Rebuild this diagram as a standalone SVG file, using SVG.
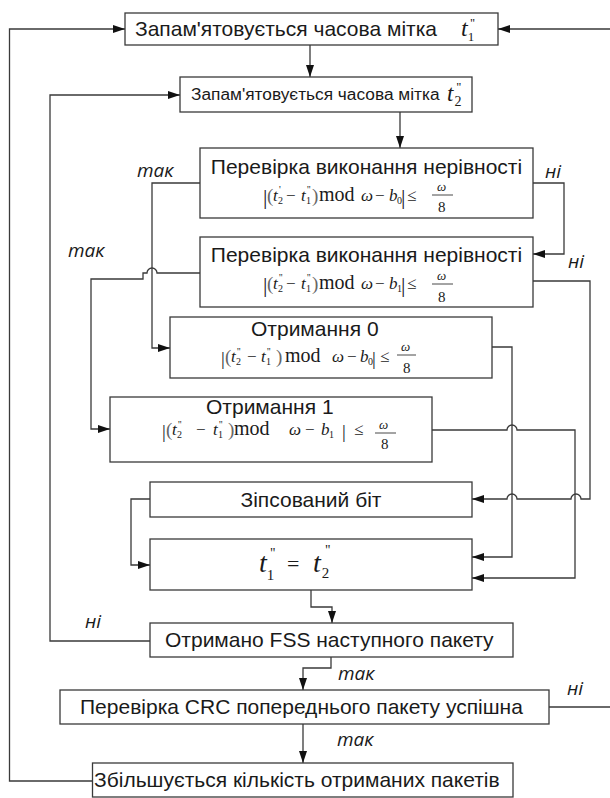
<svg xmlns="http://www.w3.org/2000/svg" width="610" height="798" viewBox="0 0 610 798">
<defs>
<marker id="ah" markerWidth="12" markerHeight="8" refX="12" refY="4" orient="auto" markerUnits="userSpaceOnUse"><path d="M0,0 L12,4 L0,8 z" fill="#111"/></marker>
<style>
.box{fill:#fff;stroke:#3a3a3a;stroke-width:1.3}
.t{font-family:"Liberation Sans",Arial,sans-serif;font-size:21px;fill:#1a1a1a}
.lb{font-family:"Open Sans","Liberation Sans",sans-serif;font-style:italic;font-size:19px;fill:#1a1a1a}
.f{font-family:"Liberation Serif","Times New Roman",serif;font-size:17px;fill:#1a1a1a}
.i{font-style:italic}
.s{font-size:10px}
.bar{font-size:22px}
.bar2{font-size:19px}
.par{font-size:19px;fill:#666}
.md{font-size:20px}
.fr{font-size:13px}
.fd{font-size:15px;font-style:normal}
.c path{fill:none;stroke:#3a3a3a;stroke-width:1.3}
.fl{stroke:#1a1a1a;stroke-width:0.8}
</style>
</defs>
<g class="c" id="connectors">
<path d="M92.5,781 H9.5 V29 H125" marker-end="url(#ah)"/>
<path d="M549,707 H613 V29 H498" marker-end="url(#ah)"/>
<path d="M310,45 V77" marker-end="url(#ah)"/>
<path d="M150,641 H50 V95 H180" marker-end="url(#ah)"/>
<path d="M400,112 V148" marker-end="url(#ah)"/>
<path d="M200,183 H152 V348 H170" marker-end="url(#ah)"/>
<path d="M533,183 H564 V254 H533" marker-end="url(#ah)"/>
<path d="M200,273 H157 A5,5 0 0 0 147,273 H143 V279 H91 V429 H110" marker-end="url(#ah)"/>
<path d="M533,281 H590 V499 H581 A5,5 0 0 0 571,499 H517 A5,5 0 0 0 507,499 H472" marker-end="url(#ah)"/>
<path d="M492,347 H512 V557 H472" marker-end="url(#ah)"/>
<path d="M432,430 H507 A5,5 0 0 1 517,430 H575 V578 H472" marker-end="url(#ah)"/>
<path d="M150,499 H131 V565 H150" marker-end="url(#ah)"/>
<path d="M311,590 V607 H332 V623" marker-end="url(#ah)"/>
<path d="M331,657 V668 H303 V690" marker-end="url(#ah)"/>
<path d="M303,724 V763" marker-end="url(#ah)"/>
</g>
<g id="labels">
<text class="lb" x="137" y="177">так</text>
<text class="lb" x="545" y="178">ні</text>
<text class="lb" x="68" y="257">так</text>
<text class="lb" x="568" y="268">ні</text>
<text class="lb" x="85" y="628">ні</text>
<text class="lb" x="338" y="680">так</text>
<text class="lb" x="567" y="695">ні</text>
<text class="lb" x="337" y="746">так</text>
</g>
<g id="n1">
<rect class="box" x="125" y="13" width="373" height="32"/>
<text class="t" x="135" y="36">Запам'ятовується часова мітка</text>
<text class="f" x="461" y="36"><tspan class="i" font-size="24">t</tspan><tspan font-size="13" dy="5">1</tspan><tspan font-size="13" dx="-4" dy="-14">''</tspan></text>
</g>
<g id="n2">
<rect class="box" x="180" y="77" width="292" height="35"/>
<text class="t" x="191" y="100" style="font-size:17.3px">Запам'ятовується часова мітка</text>
<text class="f" x="447" y="101"><tspan class="i" font-size="23">t</tspan><tspan font-size="14" dx="1" dy="5">2</tspan><tspan font-size="13" dx="-5" dy="-15">''</tspan></text>
</g>
<g id="n3">
<rect class="box" x="200" y="148" width="333" height="70"/>
<text class="t" x="366.5" y="174" text-anchor="middle">Перевірка виконання нерівності</text>
<text class="f"><tspan class="bar" x="263" y="204">|</tspan><tspan class="par" x="267" y="202">(</tspan><tspan class="i" x="273" y="201">t</tspan><tspan class="s" x="278" y="204">2</tspan><tspan class="s" x="279" y="193">'</tspan><tspan x="286" y="201">−</tspan><tspan class="i" x="301" y="201">t</tspan><tspan class="s" x="306" y="204">1</tspan><tspan class="s" x="307" y="193">''</tspan><tspan class="par" x="312" y="202">)</tspan><tspan class="md" x="319" y="201">mod</tspan><tspan class="i" x="361" y="201">ω</tspan><tspan x="375" y="201">−</tspan><tspan class="i" x="389" y="201">b</tspan><tspan class="s" x="397" y="204">0</tspan><tspan class="bar" x="401" y="204">|</tspan><tspan x="407" y="201">≤</tspan><tspan class="i fr" x="437" y="191">ω</tspan><tspan class="fd" x="438" y="212">8</tspan></text>
<line class="fl" x1="432" y1="195" x2="453" y2="195"/>
</g>
<g id="n4">
<rect class="box" x="200" y="237" width="333" height="70"/>
<text class="t" x="366.5" y="262" text-anchor="middle">Перевірка виконання нерівності</text>
<text class="f"><tspan class="bar" x="263" y="292">|</tspan><tspan class="par" x="267" y="290">(</tspan><tspan class="i" x="273" y="289">t</tspan><tspan class="s" x="278" y="292">2</tspan><tspan class="s" x="279" y="281">''</tspan><tspan x="286" y="289">−</tspan><tspan class="i" x="301" y="289">t</tspan><tspan class="s" x="306" y="292">1</tspan><tspan class="s" x="307" y="281">''</tspan><tspan class="par" x="312" y="290">)</tspan><tspan class="md" x="319" y="289">mod</tspan><tspan class="i" x="361" y="289">ω</tspan><tspan x="375" y="289">−</tspan><tspan class="i" x="389" y="289">b</tspan><tspan class="s" x="397" y="292">1</tspan><tspan class="bar" x="401" y="292">|</tspan><tspan x="407" y="289">≤</tspan><tspan class="i fr" x="437" y="280">ω</tspan><tspan class="fd" x="438" y="302">8</tspan></text>
<line class="fl" x1="432" y1="284" x2="453" y2="284"/>
</g>
<g id="n5">
<rect class="box" x="170" y="317" width="322" height="61"/>
<text class="t" x="251" y="336">Отримання 0</text>
<text class="f"><tspan class="bar2" x="221" y="365">|</tspan><tspan class="par" x="225" y="363">(</tspan><tspan class="i" x="231" y="362">t</tspan><tspan class="s" x="236" y="365">2</tspan><tspan class="s" x="237" y="355">''</tspan><tspan x="247" y="362">−</tspan><tspan class="i" x="261" y="362">t</tspan><tspan class="s" x="266" y="365">1</tspan><tspan class="s" x="267" y="355">''</tspan><tspan class="par" x="276" y="363">)</tspan><tspan class="md" x="285" y="362">mod</tspan><tspan class="i" x="332" y="362">ω</tspan><tspan x="347" y="362">−</tspan><tspan class="i" x="360" y="362">b</tspan><tspan class="s" x="368" y="365">0</tspan><tspan class="bar2" x="372" y="365">|</tspan><tspan x="380" y="362">≤</tspan><tspan class="i fr" x="401" y="351">ω</tspan><tspan class="fd" x="403" y="373">8</tspan></text>
<line class="fl" x1="397" y1="355" x2="416" y2="355"/>
</g>
<g id="n6">
<rect class="box" x="110" y="397" width="322" height="65"/>
<text class="t" x="206" y="414">Отримання 1</text>
<text class="f"><tspan class="bar2" x="162" y="438">|</tspan><tspan class="par" x="166" y="436">(</tspan><tspan class="i" x="172" y="435">t</tspan><tspan class="s" x="177" y="438">2</tspan><tspan class="s" x="178" y="428">''</tspan><tspan x="196" y="435">−</tspan><tspan class="i" x="213" y="435">t</tspan><tspan class="s" x="218" y="438">1</tspan><tspan class="s" x="219" y="428">''</tspan><tspan class="par" x="228" y="436">)</tspan><tspan class="md" x="234" y="435">mod</tspan><tspan class="i" x="289" y="435">ω</tspan><tspan x="305" y="435">−</tspan><tspan class="i" x="321" y="435">b</tspan><tspan class="s" x="329" y="438">1</tspan><tspan class="bar2" x="342" y="438">|</tspan><tspan x="354" y="435">≤</tspan><tspan class="i fr" x="379" y="429">ω</tspan><tspan class="fd" x="381" y="449">8</tspan></text>
<line class="fl" x1="375" y1="433" x2="396" y2="433"/>
</g>
<g id="n7">
<rect class="box" x="150" y="482" width="322" height="35"/>
<text class="t" x="311" y="507" text-anchor="middle">Зіпсований біт</text>
</g>
<g id="n8">
<rect class="box" x="150" y="539" width="322" height="51"/>
<text class="f" x="259" y="572"><tspan class="i" font-size="28">t</tspan><tspan font-size="15" dy="8">1</tspan><tspan font-size="14" dx="-4" dy="-22">''</tspan></text>
<text class="f" x="287" y="571" style="font-size:22px">=</text>
<text class="f" x="313" y="572"><tspan class="i" font-size="28">t</tspan><tspan font-size="15" dx="1" dy="6">2</tspan><tspan font-size="14" dx="-4" dy="-23">''</tspan></text>
</g>
<g id="n9">
<rect class="box" x="150" y="623" width="363" height="34"/>
<text class="t" x="165" y="647">Отримано FSS наступного пакету</text>
</g>
<g id="n10">
<rect class="box" x="60" y="690" width="489" height="34"/>
<text class="t" x="80" y="714">Перевірка CRC попереднього пакету успішна</text>
</g>
<g id="n11">
<rect class="box" x="92.5" y="763" width="420.5" height="34"/>
<text class="t" x="94" y="787">Збільшується кількість отриманих пакетів</text>
</g>
</svg>
